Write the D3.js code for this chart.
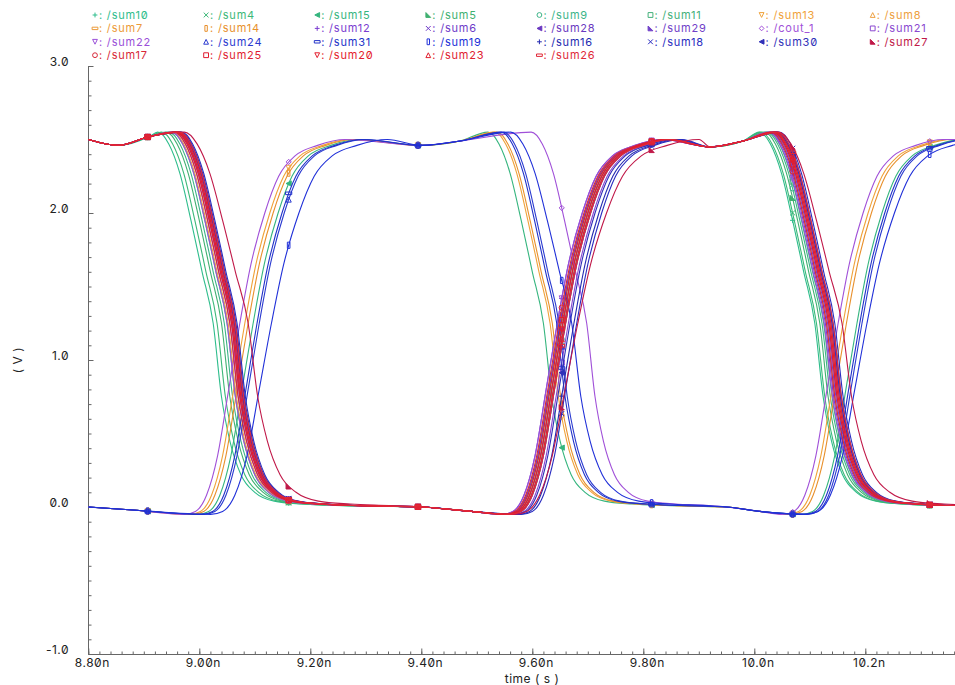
<!DOCTYPE html>
<html>
<head>
<meta charset="utf-8">
<script src="https://cdn.jsdelivr.net/npm/d3@7"></script>
<style>
  body { margin: 0; background: #fff; }
  svg text { font-family: Inter, "DejaVu Sans", sans-serif; font-feature-settings: "zero" 1; }
</style>
</head>
<body>
<svg id="chart" width="955" height="685"></svg>
<script>
// signal names, in legend order (4 rows of 8)
var names = ["sum10", "sum4", "sum15", "sum5", "sum9", "sum11", "sum13", "sum8",
  "sum7", "sum14", "sum12", "sum6", "sum28", "sum29", "cout_1", "sum21",
  "sum22", "sum24", "sum31", "sum19", "sum16", "sum18", "sum30", "sum27",
  "sum17", "sum25", "sum20", "sum23", "sum26"];

var colors = ["#2ebd8c", "#3cb878", "#35b57e", "#40b070", "#3cb488", "#44b07a", "#f0a23a", "#eea040",
  "#ec9a38", "#e8902c", "#7a3cd0", "#6e3ac8", "#6a38c0", "#7040c8", "#a050d8", "#8a48d0",
  "#9a50d8", "#2a3ad0", "#2232c8", "#2030d8", "#242ab0", "#2a2cc0", "#3030b8", "#c01848",
  "#d82838", "#e01c30", "#e41c2c", "#e02030", "#e02838"];

var symbols = ["plus", "cross", "tril", "trir", "circle", "square", "tridown", "triup",
  "hbar", "vbar", "plus", "cross", "tril", "trir", "diamond", "square",
  "tridown", "triup", "hbar", "vbar", "plus", "cross", "tril", "trir",
  "circle", "square", "tridown", "triup", "hbar"];

// A = starts high, B = starts low
var groups = ["A", "A", "B", "A", "A", "A", "B", "A",
  "A", "B", "A", "A", "A", "A", "B", "A",
  "A", "B", "B", "B", "A", "A", "A", "A",
  "A", "A", "A", "A", "A"];

// 50% crossing time of each of the three edges (ns)
var edgeTimes = [
  [9.025, 9.650, 10.109], [9.032, 9.652, 10.112], [9.097, 9.620, 10.185], [9.040, 9.655, 10.118],
  [9.045, 9.658, 10.122], [9.050, 9.660, 10.125], [9.082, 9.632, 10.160], [9.052, 9.650, 10.130],
  [9.058, 9.655, 10.136], [9.088, 9.636, 10.166], [9.055, 9.645, 10.128], [9.060, 9.650, 10.134],
  [9.062, 9.655, 10.138], [9.058, 9.660, 10.132], [9.073, 9.698, 10.151], [9.064, 9.665, 10.140],
  [9.050, 9.645, 10.126], [9.108, 9.648, 10.194], [9.104, 9.644, 10.190], [9.130, 9.671, 10.203],
  [9.066, 9.675, 10.142], [9.068, 9.680, 10.145], [9.063, 9.668, 10.140], [9.088, 9.682, 10.158],
  [9.055, 9.648, 10.130], [9.058, 9.652, 10.134], [9.060, 9.655, 10.136], [9.062, 9.658, 10.138],
  [9.065, 9.660, 10.142]];

// edge duration factor
var edgeSlow = [1, 1, 1, 1, 1, 1, 1, 1,
  1, 1, 1, 1, 1, 1, 1, 1,
  1, 1, 1, 1.1, 1, 1, 1, 1.15,
  1, 1, 1, 1, 1];

// edge shapes: [ns from 50% crossing, volts]
var fallShape = [[-0.10, 2.55], [-0.08, 2.47], [-0.06, 2.27], [-0.04, 1.95], [-0.02, 1.6], [0, 1.25],
  [0.015, 0.75], [0.03, 0.45], [0.05, 0.22], [0.075, 0.1], [0.11, 0.04], [0.16, 0.02], [0.22, 0.01]];
var riseShape = [[-0.10, -0.05], [-0.08, -0.03], [-0.06, 0.08], [-0.04, 0.35], [-0.02, 0.8], [0, 1.25],
  [0.02, 1.65], [0.045, 2.0], [0.07, 2.25], [0.10, 2.39], [0.14, 2.46], [0.19, 2.5]];

// flat parts between edges: [ns, volts]
var plateauA = [[8.80, 2.50], [8.855, 2.46], [8.91, 2.52], [9.40, 0.00], [9.49, -0.03],
  [9.92, 2.45], [9.98, 2.49], [10.40, 0.01]];
var plateauB = [[8.80, 0.00], [8.88, -0.02], [9.40, 2.46], [9.47, 2.49], [9.95, 0.00],
  [10.01, -0.03], [10.40, 2.50]];

// where the viewer puts the markers (ns)
var markerTimes = [8.907, 9.161, 9.394, 9.653, 9.815, 10.069, 10.316];

var yTicks = [3, 2, 1, 0, -1];
var yTickLabels = ["3.0", "2.0", "1.0", "0.0", "-1.0"];
var xTicks = [8.8, 9.0, 9.2, 9.4, 9.6, 9.8, 10.0, 10.2];
var xTickLabels = ["8.80n", "9.00n", "9.20n", "9.40n", "9.60n", "9.80n", "10.0n", "10.2n"];

var svg = d3.select("#chart");
var x = d3.scaleLinear().domain([8.80, 10.3616]).range([88.3, 955]);
var y = d3.scaleLinear().domain([-1, 3]).range([654, 66]);

svg.append("defs").append("clipPath").attr("id", "plot-clip")
    .append("rect").attr("x", 88).attr("y", 40).attr("width", 867).attr("height", 620);

// Axes
var axisColor = "#666";
function styleAxis(g) {
    g.selectAll("path, line").attr("stroke", axisColor);
    g.select(".domain").remove();
}
svg.append("g").attr("transform", "translate(88.5,0)")
    .call(d3.axisRight(y).tickValues(d3.range(-10, 31).map(function (d) { return d / 10; }))
        .tickSize(3).tickFormat(""))
    .call(styleAxis);
svg.append("g").attr("transform", "translate(88.5,0)")
    .call(d3.axisRight(y).tickValues(yTicks).tickSize(5).tickFormat(""))
    .call(styleAxis);
svg.append("g").attr("transform", "translate(0,654.5)")
    .call(d3.axisTop(x).tickValues(d3.range(0, 79).map(function (d) { return 8.8 + d * 0.02; }))
        .tickSize(3).tickFormat(""))
    .call(styleAxis);
svg.append("g").attr("transform", "translate(0,654.5)")
    .call(d3.axisTop(x).tickValues(xTicks).tickSize(6).tickFormat(""))
    .call(styleAxis);
svg.append("line").attr("x1", 88.5).attr("x2", 88.5).attr("y1", y(3)).attr("y2", 654.5)
    .attr("stroke", axisColor);
svg.append("line").attr("x1", 88.5).attr("x2", 955).attr("y1", 654.5).attr("y2", 654.5)
    .attr("stroke", axisColor);

svg.append("g").selectAll("text").data(yTicks).join("text")
    .attr("x", 69).attr("y", function (d) { return y(d); })
    .attr("text-anchor", "end").attr("font-size", 12).attr("letter-spacing", 0.5).attr("fill", "#222")
    .text(function (d, i) { return yTickLabels[i]; });
svg.append("g").selectAll("text").data(xTicks).join("text")
    .attr("x", function (d) { return x(d) + 4; }).attr("y", 667)
    .attr("text-anchor", "middle").attr("font-size", 12).attr("letter-spacing", 0.5).attr("fill", "#222")
    .text(function (d, i) { return xTickLabels[i]; });
svg.append("text").attr("x", 532).attr("y", 683).attr("text-anchor", "middle")
    .attr("font-size", 12).attr("letter-spacing", 0.5).attr("fill", "#222").text("time ( s )");
svg.append("text").attr("transform", "translate(22,360) rotate(-90)")
    .attr("text-anchor", "middle").attr("font-size", 12).attr("letter-spacing", 0.5)
    .attr("fill", "#222").text("( V )");

// Build each trace from its plateaus and edges
function tracePoints(i) {
    var high = groups[i] === "A";
    var plateau = high ? plateauA : plateauB;
    var dirs = high ? ["fall", "rise", "fall"] : ["rise", "fall", "rise"];
    var s = edgeSlow[i];
    var pts = [], windows = [];
    edgeTimes[i].forEach(function (t0, k) {
        var shape = dirs[k] === "fall" ? fallShape : riseShape;
        windows.push([t0 + shape[0][0] * s, t0 + shape[shape.length - 1][0] * s]);
        shape.forEach(function (p) { pts.push([t0 + p[0] * s, p[1]]); });
    });
    plateau.forEach(function (p) {
        var inside = windows.some(function (w) { return p[0] >= w[0] && p[0] <= w[1]; });
        if (!inside) pts.push(p);
    });
    pts.sort(function (a, b) { return a[0] - b[0]; });
    return pts;
}

var line = d3.line()
    .x(function (d) { return x(d[0]); })
    .y(function (d) { return y(d[1]); })
    .curve(d3.curveMonotoneX);

var plot = svg.append("g").attr("clip-path", "url(#plot-clip)");

function symbolPath(type, r) {
    switch (type) {
        case "plus": return "M" + (-r) + ",0H" + r + "M0," + (-r) + "V" + r;
        case "cross": return "M" + (-r) + "," + (-r) + "L" + r + "," + r + "M" + (-r) + "," + r + "L" + r + "," + (-r);
        case "tril": return "M" + r + "," + (-r) + "L" + (-r) + ",0L" + r + "," + r + "Z";
        case "trir": return "M" + (-r) + "," + (-r) + "L" + (-r) + "," + r + "L" + r + "," + r + "Z";
        case "circle": return "M" + (-r) + ",0A" + r + "," + r + " 0 1,0 " + r + ",0A" + r + "," + r + " 0 1,0 " + (-r) + ",0Z";
        case "square": return "M" + (-r) + "," + (-r) + "H" + r + "V" + r + "H" + (-r) + "Z";
        case "tridown": return "M" + (-r) + "," + (-r) + "H" + r + "L0," + r + "Z";
        case "triup": return "M" + (-r) + "," + r + "H" + r + "L0," + (-r) + "Z";
        case "hbar": return "M" + (-r - 0.5) + "," + (-r / 2) + "H" + (r + 0.5) + "V" + (r / 2) + "H" + (-r - 0.5) + "Z";
        case "vbar": return "M" + (-r / 2) + "," + (-r - 0.5) + "H" + (r / 2) + "V" + (r + 0.5) + "H" + (-r / 2) + "Z";
        case "diamond": return "M0," + (-r) + "L" + r + ",0L0," + r + "L" + (-r) + ",0Z";
    }
}

function yAtTime(node, t) {
    var px = x(t), lo = 0, hi = node.getTotalLength();
    for (var k = 0; k < 30; k++) {
        var mid = (lo + hi) / 2;
        if (node.getPointAtLength(mid).x < px) lo = mid; else hi = mid;
    }
    return node.getPointAtLength(lo).y;
}

names.forEach(function (name, i) {
    var path = plot.append("path")
        .datum(tracePoints(i))
        .attr("d", line)
        .attr("fill", "none")
        .attr("stroke", colors[i])
        .attr("stroke-width", 1.1);
    var node = path.node();
    var filled = symbols[i] === "tril" || symbols[i] === "trir";
    plot.append("g").selectAll("path").data(markerTimes).join("path")
        .attr("transform", function (t) { return "translate(" + x(t) + "," + yAtTime(node, t) + ")"; })
        .attr("d", symbolPath(symbols[i], 2.6))
        .attr("fill", filled ? colors[i] : "none")
        .attr("stroke", colors[i])
        .attr("stroke-width", 1);
});

// Legend
var legend = svg.append("g").attr("class", "legend");
names.forEach(function (name, i) {
    var col = i % 8, row = Math.floor(i / 8);
    var lx = 95 + col * 111.1, ly = 15 + row * 13.4;
    var filled = symbols[i] === "tril" || symbols[i] === "trir";
    legend.append("path")
        .attr("transform", "translate(" + lx + "," + ly + ")")
        .attr("d", symbolPath(symbols[i], 2.4))
        .attr("fill", filled ? colors[i] : "none")
        .attr("stroke", colors[i])
        .attr("stroke-width", 1);
    legend.append("text")
        .attr("x", lx + 4).attr("y", ly + 4)
        .attr("font-size", 11)
        .attr("letter-spacing", 0.8)
        .attr("fill", colors[i])
        .text(": /" + name);
});
</script>
</body>
</html>
